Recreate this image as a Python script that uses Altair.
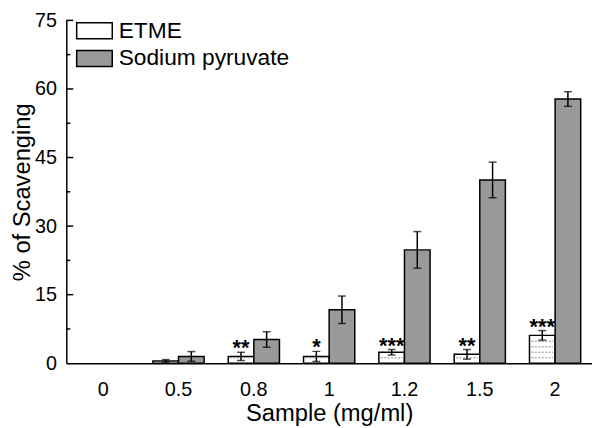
import altair as alt
import pandas as pd

samples = ["0", "0.5", "0.8", "1", "1.2", "1.5", "2"]
series = ["ETME", "Sodium pyruvate"]
etme = [0, 0.5, 1.5, 1.5, 2.4, 1.95, 6.1]
etme_err = [0, 0.3, 0.9, 1.1, 0.6, 1.05, 1.05]
sodium = [0, 1.5, 5.2, 11.7, 24.8, 40.1, 57.8]
sodium_err = [0, 1.05, 1.7, 3.0, 4.0, 3.9, 1.6]
etme_stars = ["", "", "**", "*", "***", "**", "***"]
y_values = [0, 15, 30, 45, 60, 75]
y_major = [15, 30, 45, 60, 75]
y_minor = [7.5, 22.5, 37.5, 52.5, 67.5]
hatch_step = 1.2
colors = ["white", "#999999"]

rows = []
for i, s in enumerate(samples):
    rows.append(dict(sample=s, series="ETME", value=etme[i], err=etme_err[i], star=etme_stars[i]))
    rows.append(dict(sample=s, series="Sodium pyruvate", value=sodium[i], err=sodium_err[i], star=""))
df = pd.DataFrame(rows)
df["lo"] = df["value"] - df["err"]
df["hi"] = df["value"] + df["err"]
bars_df = df[df["value"] > 0]

hatch = []
for i, s in enumerate(samples):
    k = 1
    while k * hatch_step < etme[i] - 0.25:
        hatch.append(dict(sample=s, series="ETME", hy=k * hatch_step))
        k += 1
hatch_df = pd.DataFrame(hatch)

H = 347
YT = "% of Scavenging"
X = alt.X("sample:N", sort=samples,
          scale=alt.Scale(domain=samples, paddingInner=0.32, paddingOuter=0.15),
          axis=alt.Axis(title="Sample (mg/ml)", labelAngle=0, ticks=False,
                        domainWidth=1.5, domainColor="black",
                        labelFontSize=20, titleFontSize=24,
                        labelPadding=17, titlePadding=2))
XO = alt.XOffset("series:N", sort=series,
                 scale=alt.Scale(domain=series, paddingInner=0, paddingOuter=0))
yscale = alt.Scale(domain=[0, 75], nice=False)

bars = alt.Chart(bars_df).mark_bar(stroke="black", strokeWidth=1.5).encode(
    x=X, xOffset=XO,
    y=alt.Y("value:Q", scale=yscale, title=YT,
            axis=alt.Axis(values=y_values, ticks=False, grid=False,
                          domainWidth=1.5, domainColor="black",
                          labelFontSize=20, titleFontSize=24,
                          labelPadding=10, titleX=-44, titleY=H / 2,
                          titleBaseline="middle", titleAngle=270)),
    fill=alt.Fill("series:N", scale=alt.Scale(domain=series, range=colors),
                  legend=alt.Legend(title=None, orient="none", legendX=17, legendY=-1,
                                    symbolType="M-2,-0.9H2V0.9H-2Z", symbolSize=324,
                                    symbolStrokeColor="black", symbolStrokeWidth=1.5,
                                    labelFontSize=23, labelOffset=13, rowPadding=4,
                                    labelLimit=400, labelColor="black")),
)

hatches = alt.Chart(hatch_df).mark_tick(
    orient="horizontal", size=22, thickness=0, filled=False,
    stroke="#8a8a8a", strokeDash=[2, 1.5], strokeWidth=0.8
).encode(x=X, xOffset=XO, y=alt.Y("hy:Q", scale=yscale, title=YT))

err_rule = alt.Chart(bars_df).mark_rule(color="black", strokeWidth=1.5).encode(
    x=X, xOffset=XO, y=alt.Y("lo:Q", scale=yscale, title=YT), y2="hi:Q")
cap_lo = alt.Chart(bars_df).mark_tick(color="black", size=8, thickness=1.5, orient="horizontal").encode(
    x=X, xOffset=XO, y=alt.Y("lo:Q", scale=yscale, title=YT))
cap_hi = alt.Chart(bars_df).mark_tick(color="black", size=8, thickness=1.5, orient="horizontal").encode(
    x=X, xOffset=XO, y=alt.Y("hi:Q", scale=yscale, title=YT))

stars = alt.Chart(bars_df[bars_df["star"] != ""]).mark_text(
    fontSize=22, fontWeight="bold", baseline="alphabetic", dy=3, color="black"
).encode(x=X, xOffset=XO, y=alt.Y("hi:Q", scale=yscale, title=YT), text="star:N")

major_df = pd.DataFrame({"t": y_major})
minor_df = pd.DataFrame({"t": y_minor})
major_ticks = alt.Chart(major_df).mark_rule(color="black", strokeWidth=1.5).encode(
    y=alt.Y("t:Q", scale=yscale, title=YT), x=alt.value(0), x2=alt.value(7))
minor_ticks = alt.Chart(minor_df).mark_rule(color="black", strokeWidth=1.5).encode(
    y=alt.Y("t:Q", scale=yscale, title=YT), x=alt.value(0), x2=alt.value(4))

chart = alt.layer(bars, hatches, err_rule, cap_lo, cap_hi, stars, major_ticks, minor_ticks).properties(
    width=532, height=H,
    autosize=alt.AutoSizeParams(type="none"),
    padding={"left": 59, "top": 10, "right": 0, "bottom": 63},
).configure(font="Liberation Sans").configure_view(stroke=None).configure_axis(
    labelColor="black", titleColor="black", titleFontWeight="normal",
    labelFont="Liberation Sans", titleFont="Liberation Sans"
).configure_legend(labelFont="Liberation Sans")

chart.save("out.html", embed_options={"renderer": "svg", "actions": False})
